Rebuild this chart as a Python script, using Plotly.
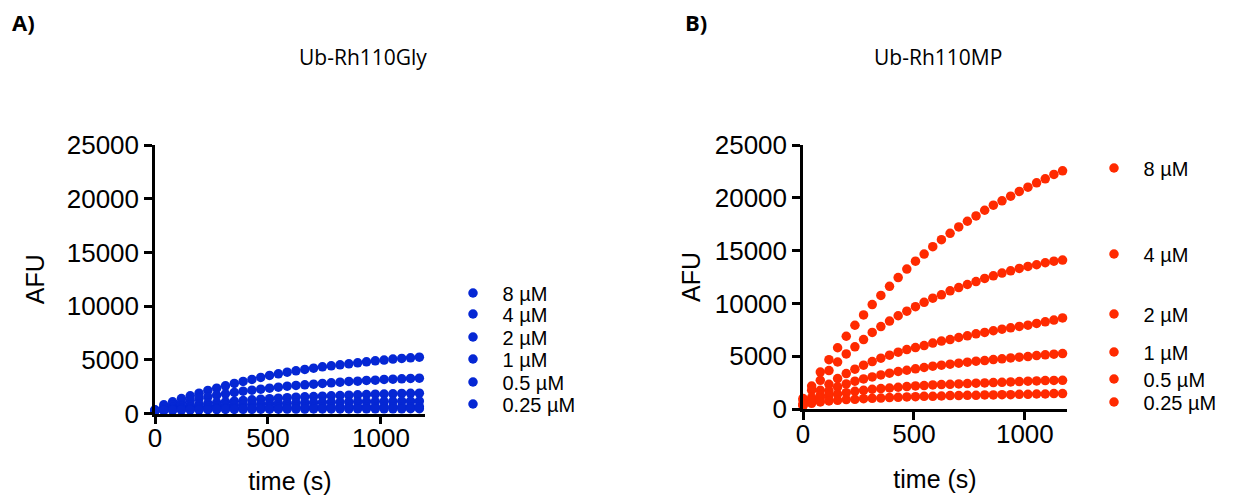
import plotly.graph_objects as go

time_s = [0, 39, 78, 117, 156, 195, 234, 273, 312, 351, 390, 429, 468, 507, 546, 585,
          624, 663, 702, 741, 780, 819, 858, 897, 936, 975, 1014, 1053, 1092, 1131, 1170]

conc_labels = ["8 µM", "4 µM", "2 µM", "1 µM", "0.5 µM", "0.25 µM"]

# Panel A: Ub-Rh110Gly
gly_8 = [342, 808, 1087, 1398, 1646, 1895, 2143, 2361, 2578, 2795, 2982, 3168, 3354, 3541, 3696, 3851,
         3976, 4100, 4224, 4348, 4442, 4535, 4628, 4721, 4814, 4907, 4970, 5063, 5125, 5187, 5249]
gly_4 = [311, 590, 808, 1025, 1211, 1398, 1553, 1708, 1833, 1957, 2081, 2174, 2267, 2361, 2454, 2547,
         2609, 2671, 2733, 2795, 2858, 2920, 2982, 3013, 3075, 3106, 3168, 3199, 3230, 3261, 3292]
gly_2 = [280, 435, 559, 683, 777, 870, 947, 1025, 1087, 1149, 1211, 1273, 1336, 1382, 1429, 1475,
         1522, 1553, 1584, 1615, 1646, 1677, 1708, 1739, 1770, 1801, 1817, 1833, 1864, 1879, 1895]
gly_1 = [270, 360, 440, 510, 570, 625, 675, 720, 760, 795, 830, 860, 890, 915, 940, 962,
         985, 1005, 1022, 1040, 1055, 1070, 1083, 1096, 1108, 1118, 1128, 1136, 1143, 1150, 1156]
gly_05 = [260, 310, 355, 390, 420, 445, 465, 483, 498, 512, 524, 535, 545, 554, 562, 570,
          577, 583, 589, 594, 599, 604, 608, 612, 616, 620, 623, 626, 629, 632, 635]
gly_025 = [250, 280, 300, 318, 332, 344, 355, 364, 372, 379, 385, 391, 396, 401, 405, 409,
           413, 416, 419, 422, 425, 427, 429, 431, 433, 435, 437, 438, 440, 441, 443]

# Panel B: Ub-Rh110MP
mp_8 = [1000, 2170, 3500, 4670, 5800, 6890, 7930, 8910, 9890, 10750, 11620, 12450, 13250, 14000, 14670, 15370,
        16030, 16640, 17240, 17780, 18280, 18820, 19300, 19710, 20150, 20600, 21010, 21420, 21800, 22210, 22560]
mp_4 = [850, 1780, 2720, 3640, 4450, 5220, 5890, 6570, 7250, 7810, 8330, 8830, 9260, 9690, 10100, 10490,
        10810, 11190, 11500, 11790, 12070, 12360, 12610, 12870, 13090, 13310, 13500, 13660, 13850, 14000, 14100]
mp_2 = [510, 1080, 1770, 2340, 2880, 3360, 3770, 4150, 4490, 4810, 5100, 5380, 5630, 5820, 6010, 6240,
        6430, 6580, 6770, 6930, 7120, 7250, 7410, 7560, 7690, 7820, 7940, 8100, 8260, 8420, 8620]
mp_1 = [350, 820, 1300, 1710, 2090, 2370, 2630, 2850, 3040, 3230, 3390, 3550, 3670, 3800, 3930, 4050,
        4150, 4240, 4340, 4430, 4530, 4590, 4680, 4750, 4840, 4910, 4970, 5060, 5130, 5190, 5250]
mp_05 = [350, 760, 1040, 1270, 1420, 1550, 1680, 1770, 1870, 1930, 1990, 2060, 2120, 2180, 2220, 2280,
         2310, 2340, 2370, 2410, 2440, 2470, 2500, 2530, 2560, 2600, 2630, 2660, 2690, 2710, 2720]
mp_025 = [320, 540, 670, 760, 820, 890, 920, 980, 1010, 1040, 1080, 1110, 1140, 1170, 1200, 1200,
          1230, 1270, 1270, 1300, 1300, 1330, 1330, 1360, 1360, 1390, 1390, 1420, 1420, 1460, 1460]

gly_series = [gly_8, gly_4, gly_2, gly_1, gly_05, gly_025]
mp_series = [mp_8, mp_4, mp_2, mp_1, mp_05, mp_025]

BLUE = "#0527D4"
RED = "#FF2A00"
# The page body has an 8px default margin; lay out in reference pixels, shifted by it.
OFF = 8
W, H = 1235 - OFF, 495 - OFF


def px(x):
    return (x - OFF) / W


def py(y):
    return 1 - (y - OFF) / H


TICKFONT = dict(family="Liberation Sans, Arial, sans-serif", size=26, color="black")
TITLEFONT = dict(family="Liberation Sans, Arial, sans-serif", size=25, color="black")
LEGFONT = dict(family="Liberation Sans, Arial, sans-serif", size=20, color="black")

# legend row centres (px from top)
leg_y_A = [293, 314, 337, 359, 382, 404]
leg_y_B = [168, 254, 314, 352, 379, 402]
ITEMW = 49

fig = go.Figure()
legend_layouts = {}
n = 0
for series, label, ly in zip(gly_series, conc_labels, leg_y_A):
    n += 1
    lname = "legend" if n == 1 else f"legend{n}"
    fig.add_trace(go.Scatter(x=time_s, y=series, mode="markers", name=label,
                             marker=dict(color=BLUE, size=9.5), cliponaxis=False,
                             xaxis="x", yaxis="y", legend=lname))
    legend_layouts[lname] = dict(x=px(472 - 28.5), xanchor="left", y=py(ly), yanchor="middle",
                                 font=LEGFONT, bgcolor="rgba(0,0,0,0)", borderwidth=0,
                                 itemwidth=ITEMW, tracegroupgap=0)
for series, label, ly in zip(mp_series, conc_labels, leg_y_B):
    n += 1
    lname = f"legend{n}"
    fig.add_trace(go.Scatter(x=time_s, y=series, mode="markers", name=label,
                             marker=dict(color=RED, size=9.5), cliponaxis=False,
                             xaxis="x2", yaxis="y2", legend=lname))
    legend_layouts[lname] = dict(x=px(1113 - 28.5), xanchor="left", y=py(ly), yanchor="middle",
                                 font=LEGFONT, bgcolor="rgba(0,0,0,0)", borderwidth=0,
                                 itemwidth=ITEMW, tracegroupgap=0)

axis_common = dict(showline=True, linewidth=2.5, linecolor="black", ticks="outside", ticklen=8,
                   tickwidth=2.5, tickcolor="black", showgrid=False, zeroline=False,
                   tickfont=TICKFONT, automargin=False, tickformat="d")

fig.update_layout(
    width=W, height=H, margin=dict(l=0, r=0, t=0, b=0),
    paper_bgcolor="white", plot_bgcolor="white", showlegend=True,
    xaxis=dict(domain=[px(155), px(425)], range=[0, 1195], tickvals=[0, 500, 1000], anchor="y",
               ticklabelstandoff=-8,
               title=dict(text="time (s)", font=TITLEFONT, standoff=23), **axis_common),
    yaxis=dict(domain=[py(413.5), py(145)], range=[0, 25000],
               tickvals=[0, 5000, 10000, 15000, 20000, 25000], anchor="x",
               title=dict(text="AFU", font=TITLEFONT, standoff=15), **axis_common),
    xaxis2=dict(domain=[px(803), px(1067)], range=[0, 1190], tickvals=[0, 500, 1000], anchor="y2",
                ticklabelstandoff=-8,
                title=dict(text="time (s)", font=TITLEFONT, standoff=23), **axis_common),
    yaxis2=dict(domain=[py(409), py(145)], range=[0, 25000],
                tickvals=[0, 5000, 10000, 15000, 20000, 25000], anchor="x2",
                title=dict(text="AFU", font=TITLEFONT, standoff=7), **axis_common),
    annotations=[
        dict(text="<b>A)</b>", x=px(10), y=py(22), xref="paper", yref="paper", xanchor="left",
             yanchor="middle", showarrow=False, font=dict(family="Open Sans", size=22, color="black")),
        dict(text="<b>B)</b>", x=px(683), y=py(22), xref="paper", yref="paper", xanchor="left",
             yanchor="middle", showarrow=False, font=dict(family="Open Sans", size=22, color="black")),
        dict(text="Ub-Rh110Gly", x=px(363), y=py(57), xref="paper", yref="paper", xanchor="center",
             yanchor="middle", showarrow=False, font=dict(family="Open Sans", size=21, color="black")),
        dict(text="Ub-Rh110MP", x=px(938), y=py(57), xref="paper", yref="paper", xanchor="center",
             yanchor="middle", showarrow=False, font=dict(family="Open Sans", size=21, color="black")),
    ],
    **legend_layouts,
)

fig.write_html("out.html")
